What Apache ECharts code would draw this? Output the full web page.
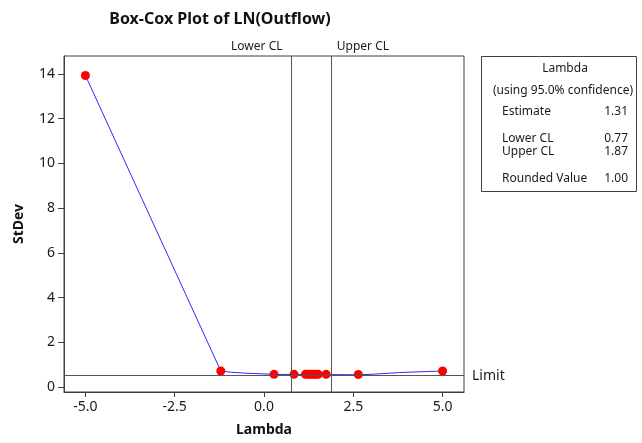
<!DOCTYPE html>
<html>
<head>
<meta charset="utf-8">
<script src="https://cdn.jsdelivr.net/npm/echarts@6/dist/echarts.min.js"></script>
<style>
  html, body { margin: 0; padding: 0; background: #ffffff; }
  #chart { width: 642px; height: 443px; }
</style>
</head>
<body>
<div id="chart"></div>
<script>
// Box-Cox profile: standard deviation of the transformed data for each lambda
const curveLambda = [-5.0, -1.21, -0.9, -0.5, 0.28, 0.84, 1.16, 1.31, 1.52, 1.74, 2.64, 3.0, 3.8, 5.0];
const curveStDev  = [13.93, 0.72, 0.66, 0.62, 0.57, 0.56, 0.56, 0.56, 0.56, 0.56, 0.55, 0.57, 0.65, 0.72];

// Evaluated lambdas marked with dots
const pointLambda = [-5.0, -1.21, 0.28, 0.84, 1.16, 1.22, 1.28, 1.34, 1.40, 1.46, 1.52, 1.74, 2.64, 5.0];
const pointStDev  = [13.93, 0.72, 0.57, 0.57, 0.57, 0.57, 0.57, 0.57, 0.57, 0.57, 0.57, 0.57, 0.56, 0.72];

// Confidence limits and the StDev limit line
const lowerCL = 0.77;
const upperCL = 1.87;
const limitStDev = 0.505;

// Axis ticks
const xTicks = [-5.0, -2.5, 0.0, 2.5, 5.0];
const yTicks = [0, 2, 4, 6, 8, 10, 12, 14];

// Summary table
const tableTitle = 'Lambda';
const tableSubtitle = '(using 95.0% confidence)';
const tableRows = [
  ['Estimate', '1.31'],
  ['Lower CL', '0.77'],
  ['Upper CL', '1.87'],
  ['Rounded Value', '1.00']
];
const tableRowY = [112, 139, 152, 179];

const FONT = 'Noto Sans';
const chart = echarts.init(document.getElementById('chart'), null, { renderer: 'canvas' });

const curveData = curveLambda.map((x, i) => [x, curveStDev[i]]);
const pointData = pointLambda.map((x, i) => [x, pointStDev[i]]);

const tableGraphics = [
  {
    type: 'rect',
    shape: { x: 481.5, y: 56.5, width: 155, height: 135 },
    style: { fill: '#ffffff', stroke: '#404040', lineWidth: 1 }
  },
  {
    type: 'text', x: 565, y: 69,
    style: { text: tableTitle, font: '12px "' + FONT + '"', fill: '#1a1a1a', align: 'center', verticalAlign: 'middle' }
  },
  {
    type: 'text', x: 563, y: 91,
    style: { text: tableSubtitle, font: '12px "' + FONT + '"', fill: '#1a1a1a', align: 'center', verticalAlign: 'middle' }
  }
];
tableRows.forEach((row, i) => {
  tableGraphics.push({
    type: 'text', x: 502, y: tableRowY[i],
    style: { text: row[0], font: '12px "' + FONT + '"', fill: '#1a1a1a', align: 'left', verticalAlign: 'middle' }
  });
  tableGraphics.push({
    type: 'text', x: 628, y: tableRowY[i],
    style: { text: row[1], font: '12px "' + FONT + '"', fill: '#1a1a1a', align: 'right', verticalAlign: 'middle' }
  });
});

const option = {
  animation: false,
  backgroundColor: '#ffffff',
  textStyle: { fontFamily: FONT },
  title: {
    text: 'Box-Cox Plot of LN(Outflow)',
    left: 215, top: 6, textAlign: 'center',
    textStyle: { fontFamily: FONT, fontSize: 16, fontWeight: 'bold', color: '#111111' }
  },
  grid: {
    left: 64, right: 178, top: 56, bottom: 51,
    show: true, borderColor: '#404040', borderWidth: 1, backgroundColor: '#ffffff'
  },
  xAxis: {
    type: 'value', min: -5.6, max: 5.6,
    name: 'Lambda', nameLocation: 'middle', nameGap: 31,
    nameTextStyle: { fontFamily: FONT, fontSize: 14, fontWeight: 'bold', color: '#111111' },
    axisLine: { show: true, onZero: false, lineStyle: { color: '#404040' } },
    axisTick: { show: true, length: 5, lineStyle: { color: '#404040' }, customValues: xTicks },
    axisLabel: {
      fontFamily: FONT, fontSize: 14, color: '#1a1a1a', margin: 8,
      customValues: xTicks, formatter: v => v.toFixed(1)
    },
    splitLine: { show: false }
  },
  yAxis: {
    type: 'value', min: -0.22, max: 14.8,
    name: 'StDev', nameLocation: 'middle', nameGap: 38, nameRotate: 90,
    nameTextStyle: { fontFamily: FONT, fontSize: 14, fontWeight: 'bold', color: '#111111' },
    axisLine: { show: true, onZero: false, lineStyle: { color: '#404040' } },
    axisTick: { show: true, length: 6, lineStyle: { color: '#404040' }, customValues: yTicks },
    axisLabel: {
      fontFamily: FONT, fontSize: 14, color: '#1a1a1a', margin: 9,
      customValues: yTicks, formatter: v => String(v)
    },
    splitLine: { show: false }
  },
  series: [
    {
      type: 'line',
      data: curveData,
      showSymbol: false,
      symbol: 'none',
      lineStyle: { color: '#2b2bff', width: 1 },
      z: 3,
      markLine: {
        silent: true,
        symbol: ['none', 'none'],
        lineStyle: { color: '#555555', width: 1, type: 'solid' },
        data: [
          {
            xAxis: lowerCL,
            label: { show: true, position: 'end', formatter: 'Lower CL', align: 'right', padding: [0, 9, 0, 0],
                     distance: 3, fontFamily: FONT, fontSize: 12, color: '#1a1a1a' }
          },
          {
            xAxis: upperCL,
            label: { show: true, position: 'end', formatter: 'Upper CL', align: 'left', padding: [0, 0, 0, 6],
                     distance: 3, fontFamily: FONT, fontSize: 12, color: '#1a1a1a' }
          },
          {
            yAxis: limitStDev,
            label: { show: true, position: 'end', formatter: 'Limit', distance: 8,
                     fontFamily: FONT, fontSize: 14, color: '#1a1a1a' }
          }
        ]
      }
    },
    {
      type: 'scatter',
      data: pointData,
      symbol: 'circle',
      symbolSize: 9,
      itemStyle: { color: '#ff0000', opacity: 1 },
      z: 4
    }
  ],
  graphic: tableGraphics
};

chart.setOption(option);
</script>
</body>
</html>
